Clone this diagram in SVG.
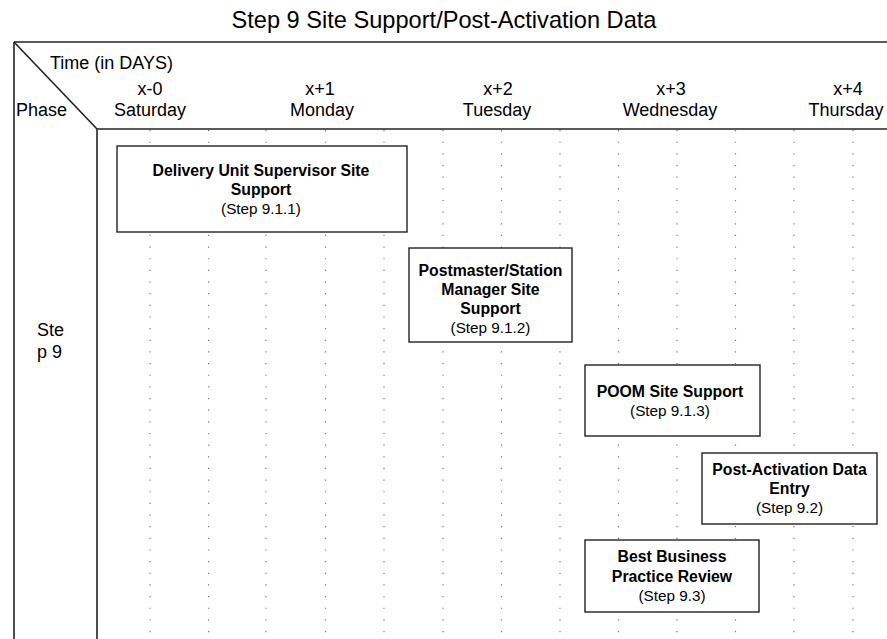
<svg xmlns="http://www.w3.org/2000/svg" width="887" height="639" viewBox="0 0 887 639">
<style>
text{font-family:"Liberation Sans",Arial,sans-serif;fill:#000}
.title{font-size:23.6px;text-anchor:middle}
.hdr{font-size:18px}
.mid{text-anchor:middle}
.b{font-size:15.8px;font-weight:bold;text-anchor:middle}
.r{font-size:15.3px;text-anchor:middle}
.frame{stroke:#222;stroke-width:1.6;fill:none}
.grid line{stroke:#777;stroke-width:1.2;stroke-dasharray:1.2 10.45}
.box{fill:#fff;stroke:#222;stroke-width:1.4}
</style>
<rect width="887" height="639" fill="#fff"/>
<text class="title" x="444" y="28">Step 9 Site Support/Post-Activation Data</text>
<g id="frame" class="frame">
<line x1="14" y1="42" x2="887" y2="42"/>
<line x1="14" y1="42" x2="14" y2="639"/>
<line x1="97" y1="129" x2="97" y2="639"/>
<line x1="97" y1="129" x2="887" y2="129"/>
<line x1="14" y1="42" x2="97" y2="129"/>
</g>
<g id="header">
<text class="hdr" x="50" y="69">Time (in DAYS)</text>
<text class="hdr" x="16" y="116">Phase</text>
<text class="hdr mid" x="150" y="95">x-0</text>
<text class="hdr mid" x="150" y="116">Saturday</text>
<text class="hdr mid" x="320" y="95">x+1</text>
<text class="hdr mid" x="322" y="116">Monday</text>
<text class="hdr mid" x="498" y="95">x+2</text>
<text class="hdr mid" x="497" y="116">Tuesday</text>
<text class="hdr mid" x="671" y="95">x+3</text>
<text class="hdr mid" x="670" y="116">Wednesday</text>
<text class="hdr mid" x="848" y="95">x+4</text>
<text class="hdr mid" x="846" y="116">Thursday</text>
<text class="hdr" x="37" y="336">Ste</text>
<text class="hdr" x="37" y="358">p 9</text>
</g>
<g id="grid" class="grid">
<line x1="150" y1="130" x2="150" y2="639"/>
<line x1="208.6" y1="130" x2="208.6" y2="639"/>
<line x1="266" y1="130" x2="266" y2="639"/>
<line x1="325.5" y1="130" x2="325.5" y2="639"/>
<line x1="384" y1="130" x2="384" y2="639"/>
<line x1="443" y1="130" x2="443" y2="639"/>
<line x1="501.5" y1="130" x2="501.5" y2="639"/>
<line x1="560" y1="130" x2="560" y2="639"/>
<line x1="618.5" y1="130" x2="618.5" y2="639"/>
<line x1="677" y1="130" x2="677" y2="639"/>
<line x1="735.5" y1="130" x2="735.5" y2="639"/>
<line x1="794" y1="130" x2="794" y2="639"/>
<line x1="853" y1="130" x2="853" y2="639"/>
</g>
<g id="connectors"></g>
<g id="step-9-1-1">
<rect class="box" x="117" y="146" width="290" height="86"/>
<text class="b" x="261" y="176">Delivery Unit Supervisor Site</text>
<text class="b" x="261" y="195">Support</text>
<text class="r" x="261" y="214">(Step 9.1.1)</text>
</g>
<g id="step-9-1-2">
<rect class="box" x="409" y="248" width="163" height="94"/>
<text class="b" x="490.5" y="276">Postmaster/Station</text>
<text class="b" x="490.5" y="295">Manager Site</text>
<text class="b" x="490.5" y="314">Support</text>
<text class="r" x="490.5" y="333">(Step 9.1.2)</text>
</g>
<g id="step-9-1-3">
<rect class="box" x="585" y="365" width="175" height="71"/>
<text class="b" x="670" y="397">POOM Site Support</text>
<text class="r" x="670" y="416">(Step 9.1.3)</text>
</g>
<g id="step-9-2">
<rect class="box" x="702" y="453" width="175" height="71"/>
<text class="b" x="789.5" y="475">Post-Activation Data</text>
<text class="b" x="789.5" y="494">Entry</text>
<text class="r" x="789.5" y="513">(Step 9.2)</text>
</g>
<g id="step-9-3">
<rect class="box" x="585" y="540" width="174" height="72"/>
<text class="b" x="672" y="562">Best Business</text>
<text class="b" x="672" y="582">Practice Review</text>
<text class="r" x="672" y="601">(Step 9.3)</text>
</g>
</svg>
